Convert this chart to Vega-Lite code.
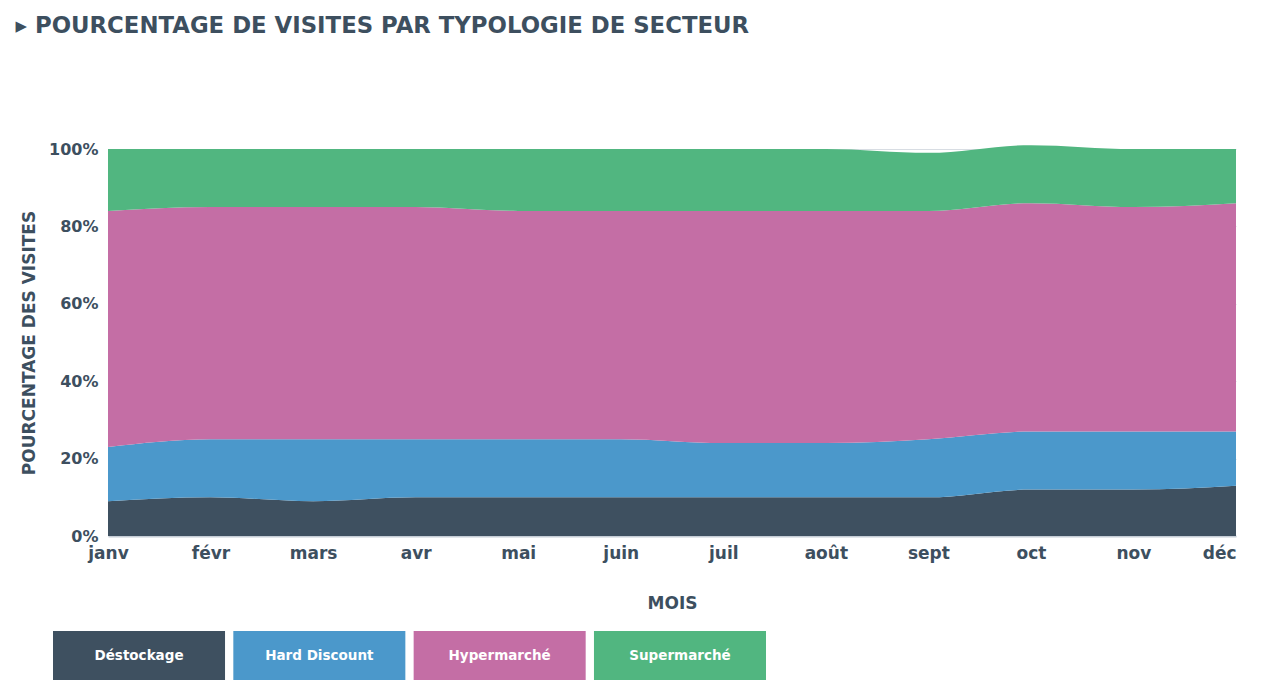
{
  "$schema": "https://vega.github.io/schema/vega-lite/v6.json",
  "background": "white",
  "padding": {"left": 15, "top": 14, "right": 10, "bottom": 5},
  "title": {
    "text": "▸ POURCENTAGE DE VISITES PAR TYPOLOGIE DE SECTEUR",
    "anchor": "start",
    "frame": "bounds",
    "font": "DejaVu Sans",
    "fontSize": 22.8,
    "fontWeight": "bold",
    "color": "#3d4f5f",
    "dx": -5,
    "offset": 103.5
  },
  "config": {
    "view": {"stroke": null},
    "font": "DejaVu Sans",
    "concat": {"spacing": 20}
  },
  "datasets": {
    "visites": [
      {"mois": "janv", "secteur": "Déstockage", "pct": 9},
      {"mois": "févr", "secteur": "Déstockage", "pct": 10},
      {"mois": "mars", "secteur": "Déstockage", "pct": 9},
      {"mois": "avr", "secteur": "Déstockage", "pct": 10},
      {"mois": "mai", "secteur": "Déstockage", "pct": 10},
      {"mois": "juin", "secteur": "Déstockage", "pct": 10},
      {"mois": "juil", "secteur": "Déstockage", "pct": 10},
      {"mois": "août", "secteur": "Déstockage", "pct": 10},
      {"mois": "sept", "secteur": "Déstockage", "pct": 10},
      {"mois": "oct", "secteur": "Déstockage", "pct": 12},
      {"mois": "nov", "secteur": "Déstockage", "pct": 12},
      {"mois": "déc", "secteur": "Déstockage", "pct": 13},
      {"mois": "janv", "secteur": "Hard Discount", "pct": 14},
      {"mois": "févr", "secteur": "Hard Discount", "pct": 15},
      {"mois": "mars", "secteur": "Hard Discount", "pct": 16},
      {"mois": "avr", "secteur": "Hard Discount", "pct": 15},
      {"mois": "mai", "secteur": "Hard Discount", "pct": 15},
      {"mois": "juin", "secteur": "Hard Discount", "pct": 15},
      {"mois": "juil", "secteur": "Hard Discount", "pct": 14},
      {"mois": "août", "secteur": "Hard Discount", "pct": 14},
      {"mois": "sept", "secteur": "Hard Discount", "pct": 15},
      {"mois": "oct", "secteur": "Hard Discount", "pct": 15},
      {"mois": "nov", "secteur": "Hard Discount", "pct": 15},
      {"mois": "déc", "secteur": "Hard Discount", "pct": 14},
      {"mois": "janv", "secteur": "Hypermarché", "pct": 61},
      {"mois": "févr", "secteur": "Hypermarché", "pct": 60},
      {"mois": "mars", "secteur": "Hypermarché", "pct": 60},
      {"mois": "avr", "secteur": "Hypermarché", "pct": 60},
      {"mois": "mai", "secteur": "Hypermarché", "pct": 59},
      {"mois": "juin", "secteur": "Hypermarché", "pct": 59},
      {"mois": "juil", "secteur": "Hypermarché", "pct": 60},
      {"mois": "août", "secteur": "Hypermarché", "pct": 60},
      {"mois": "sept", "secteur": "Hypermarché", "pct": 59},
      {"mois": "oct", "secteur": "Hypermarché", "pct": 59},
      {"mois": "nov", "secteur": "Hypermarché", "pct": 58},
      {"mois": "déc", "secteur": "Hypermarché", "pct": 59},
      {"mois": "janv", "secteur": "Supermarché", "pct": 16},
      {"mois": "févr", "secteur": "Supermarché", "pct": 15},
      {"mois": "mars", "secteur": "Supermarché", "pct": 15},
      {"mois": "avr", "secteur": "Supermarché", "pct": 15},
      {"mois": "mai", "secteur": "Supermarché", "pct": 16},
      {"mois": "juin", "secteur": "Supermarché", "pct": 16},
      {"mois": "juil", "secteur": "Supermarché", "pct": 16},
      {"mois": "août", "secteur": "Supermarché", "pct": 16},
      {"mois": "sept", "secteur": "Supermarché", "pct": 15},
      {"mois": "oct", "secteur": "Supermarché", "pct": 15},
      {"mois": "nov", "secteur": "Supermarché", "pct": 15},
      {"mois": "déc", "secteur": "Supermarché", "pct": 14}
    ],
    "legende": [
      {"secteur": "Déstockage"},
      {"secteur": "Hard Discount"},
      {"secteur": "Hypermarché"},
      {"secteur": "Supermarché"}
    ]
  },
  "vconcat": [
    {
      "width": 1128,
      "height": 387,
      "data": {"name": "visites"},
      "mark": {"type": "area", "interpolate": "monotone", "clip": false},
      "encoding": {
        "x": {
          "field": "mois",
          "type": "ordinal",
          "sort": ["janv", "févr", "mars", "avr", "mai", "juin", "juil", "août", "sept", "oct", "nov", "déc"],
          "scale": {"type": "point", "padding": 0},
          "axis": {
            "title": "MOIS",
            "labelAngle": 0,
            "labelFont": "DejaVu Sans",
            "labelFontSize": 17,
            "labelFontWeight": "bold",
            "labelColor": "#3d4f5f",
            "labelPadding": 9,
            "labelAlign": {"condition": {"test": "datum.value === 'déc'", "value": "right"}, "value": "center"},
            "titleFont": "DejaVu Sans",
            "titleFontSize": 17,
            "titleFontWeight": "bold",
            "titleColor": "#3d4f5f",
            "titlePadding": 34,
            "ticks": false,
            "domainColor": "#c5cdd6",
            "domainWidth": 2,
            "grid": false
          }
        },
        "y": {
          "field": "pct",
          "type": "quantitative",
          "stack": "zero",
          "scale": {"domain": [0, 100], "nice": false},
          "axis": {
            "title": "POURCENTAGE DES VISITES",
            "values": [0, 20, 40, 60, 80, 100],
            "labelExpr": "datum.value + '%'",
            "labelFont": "DejaVu Sans",
            "labelFontSize": 16,
            "labelFontWeight": "bold",
            "labelColor": "#3d4f5f",
            "labelPadding": 10,
            "titleFont": "DejaVu Sans",
            "titleFontSize": 17,
            "titleFontWeight": "bold",
            "titleColor": "#3d4f5f",
            "titlePadding": 10,
            "ticks": false,
            "domainColor": "#dde3e8",
            "gridColor": "#d8dde3",
            "grid": true
          }
        },
        "color": {
          "field": "secteur",
          "type": "nominal",
          "scale": {
            "domain": ["Déstockage", "Hard Discount", "Hypermarché", "Supermarché"],
            "range": ["#3e5060", "#4b98cb", "#c46ea5", "#51b680"]
          },
          "legend": null
        },
        "order": {"field": "secteur", "sort": "ascending"}
      }
    },
    {
      "width": 658,
      "height": 49,
      "data": {"name": "legende"},
      "encoding": {
        "x": {
          "field": "secteur",
          "type": "nominal",
          "scale": {"type": "band", "paddingInner": 0.046, "paddingOuter": 0, "range": [-55, 658]},
          "axis": null
        }
      },
      "layer": [
        {
          "mark": {"type": "rect"},
          "encoding": {
            "color": {
              "field": "secteur",
              "type": "nominal",
              "scale": {
                "domain": ["Déstockage", "Hard Discount", "Hypermarché", "Supermarché"],
                "range": ["#3e5060", "#4b98cb", "#c46ea5", "#51b680"]
              },
              "legend": null
            }
          }
        },
        {
          "mark": {"type": "text", "color": "white", "fontSize": 13.5, "fontWeight": "bold", "font": "DejaVu Sans"},
          "encoding": {
            "text": {"field": "secteur"}
          }
        }
      ]
    }
  ]
}
